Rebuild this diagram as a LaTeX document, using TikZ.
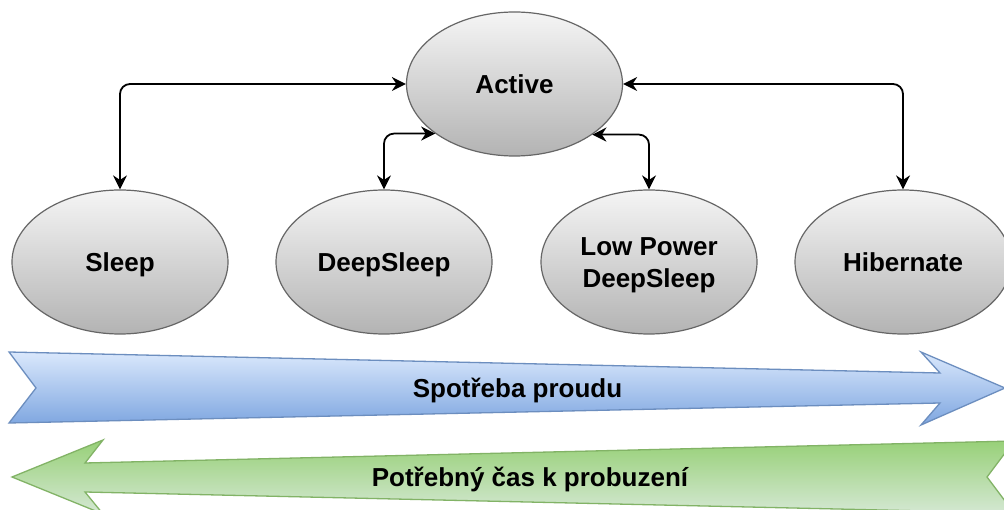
\documentclass[tikz,border=0pt]{standalone}
\usepackage{fontspec}
\setmainfont{Liberation Sans}
\usetikzlibrary{arrows.meta,shapes.geometric}
\definecolor{ellTop}{HTML}{F5F5F5}
\definecolor{ellBot}{HTML}{B3B3B3}
\definecolor{ellLine}{HTML}{666666}
\definecolor{bluTop}{HTML}{DAE8FC}
\definecolor{bluBot}{HTML}{7EA6E0}
\definecolor{bluLine}{HTML}{6C8EBF}
\definecolor{grnTop}{HTML}{97D077}
\definecolor{grnBot}{HTML}{D5E8D4}
\definecolor{grnLine}{HTML}{82B366}
\begin{document}
\begin{tikzpicture}[x=1pt,y=-1pt,
  state/.style={ellipse, draw=ellLine, line width=1.2pt, top color=ellTop, bottom color=ellBot,
    minimum width=216pt, minimum height=144pt, inner sep=0pt,
    font=\bfseries\fontsize{26}{32}\selectfont, text height=18.6pt, text depth=0pt, align=center},
  link/.style={line width=1.8pt, rounded corners=10pt,
    {Stealth[length=14pt,width=14pt,inset=4.5pt]}-{Stealth[length=14pt,width=14pt,inset=4.5pt]}},
  arrowtext/.style={inner sep=0pt, font=\bfseries\fontsize{26}{32}\selectfont, text height=18.6pt, text depth=0pt},
  bluearrow/.style={draw=bluLine, line width=1.3pt, top color=bluTop, bottom color=bluBot, line join=miter},
  greenarrow/.style={draw=grnLine, line width=1.3pt, top color=grnTop, bottom color=grnBot, line join=miter}
]
\clip (0,0) rectangle (1004,510);
\fill[white] (0,0) rectangle (1004,510);

% band arrows
\path[bluearrow] (9,352) -- (940,373) -- (921,352) -- (1005,388) -- (921,425) -- (940,403) -- (9,423) -- (36,388) -- cycle;
\path[greenarrow] (12,477) -- (103,440) -- (85,463) -- (1014,441) -- (987,477) -- (1014,513) -- (85,492) -- (103,514) -- cycle;
\node[arrowtext] (spot) at (517.5,388) {Spotřeba proudu};
\node[arrowtext] (cas) at (530,477.5) {Potřebný čas k probuzení};

% states
\node[state] (active) at (514.5,84) {Active};
\node[state] (sleep) at (120,262) {Sleep};
\node[state] (deep) at (384,262) {DeepSleep};
\node[state, text height=50.6pt] (lowp) at (649,262) {Low Power\\DeepSleep};
\node[state] (hib) at (903,262) {Hibernate};

% connectors
\draw[link] (sleep.north) |- (active.west);
\draw[link] (hib.north) |- (active.east);
\draw[link] (deep.north) |- (active.212.76);
\draw[link] (lowp.north) |- (active.327.24);
\end{tikzpicture}
\end{document}
